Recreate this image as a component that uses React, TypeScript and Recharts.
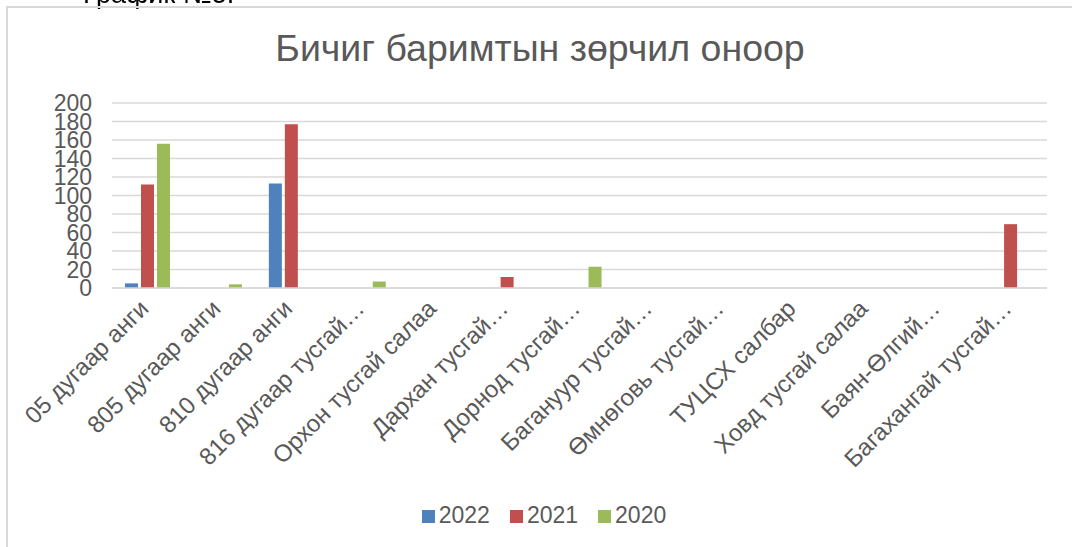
import React from "react";
import { BarChart, Bar, XAxis, YAxis, CartesianGrid, Legend } from "recharts";

const categories = [
  "05 дугаар анги",
  "805 дугаар анги",
  "810 дугаар анги",
  "816 дугаар тусгай…",
  "Орхон тусгай салаа",
  "Дархан тусгай…",
  "Дорнод тусгай…",
  "Багануур тусгай…",
  "Өмнөговь тусгай…",
  "ТУЦСХ салбар",
  "Ховд тусгай салаа",
  "Баян-Өлгий…",
  "Багахангай тусгай…",
];

const values2022 = [5, 0, 113, 0, 0, 0, 0, 0, 0, 0, 0, 0, 0];
const values2021 = [112, 0, 177, 0, 0, 12, 0, 0, 0, 0, 0, 0, 69];
const values2020 = [156, 4, 0, 7, 0, 0, 23, 0, 0, 0, 0, 0, 0];

const seriesOrder = ["2022", "2021", "2020"];
const yTicks = [0, 20, 40, 60, 80, 100, 120, 140, 160, 180, 200];

const FONT = "'Liberation Sans', Arial, sans-serif";
const TEXT = "#595959";

const data = categories.map((name, i) => ({
  name,
  y2022: values2022[i] || null,
  y2021: values2021[i] || null,
  y2020: values2020[i] || null,
}));

const RotatedTick = (props: any) => {
  const { x, y, payload } = props;
  const ax = x + 2;
  const ay = y + 14;
  return (
    <text
      x={ax}
      y={ay}
      transform={`rotate(-45, ${ax}, ${ay})`}
      textAnchor="end"
      fill={TEXT}
      fontSize={24}
      fontFamily={FONT}
    >
      {payload.value}
    </text>
  );
};

export default function App() {
  return (
    <div
      style={{
        position: "relative",
        width: 1072,
        height: 547,
        margin: "-8px 0 0 -8px",
        overflow: "hidden",
        background: "#fff",
        fontFamily: FONT,
      }}
    >
      <div
        style={{
          position: "absolute",
          left: 0,
          width: 1080,
          top: 26,
          textAlign: "center",
          fontSize: 37.5,
          lineHeight: "44px",
          color: TEXT,
        }}
      >
        Бичиг баримтын зөрчил оноор
      </div>
      <div style={{ position: "absolute", left: 0, top: 0 }}>
        <BarChart
          width={1072}
          height={547}
          data={data}
          margin={{ top: 103, right: 25, bottom: 59, left: 0 }}
          barSize={13}
          barGap={3}
        >
          <CartesianGrid vertical={false} stroke="#D9D9D9" strokeWidth={1.5} />
          <XAxis
            dataKey="name"
            interval={0}
            height={200}
            tickLine={false}
            axisLine={{ stroke: "#D9D9D9", strokeWidth: 1.5 }}
            tick={<RotatedTick />}
          />
          <YAxis
            width={112}
            domain={[0, 200]}
            ticks={yTicks}
            interval={0}
            axisLine={false}
            tickLine={false}
            tickSize={6}
            tickMargin={14}
            tick={{ fill: TEXT, fontSize: 23, fontFamily: FONT }}
          />
          <Legend
            verticalAlign="middle"
            align="center"
            iconType="square"
            iconSize={13}
            itemSorter={(item: any) => seriesOrder.indexOf(String(item.value))}
            wrapperStyle={{ top: 502, left: 0, width: 1108, fontSize: 23, fontFamily: FONT }}
            formatter={(value) => <span style={{ color: TEXT, marginRight: 10 }}>{value}</span>}
          />
          <Bar dataKey="y2022" name="2022" fill="#4F81BD" isAnimationActive={false} />
          <Bar dataKey="y2021" name="2021" fill="#C0504D" isAnimationActive={false} />
          <Bar dataKey="y2020" name="2020" fill="#9BBB59" isAnimationActive={false} />
        </BarChart>
      </div>
      <div
        style={{
          position: "fixed",
          left: 83,
          top: -19,
          fontSize: 27,
          lineHeight: "26px",
          color: "#000",
          whiteSpace: "nowrap",
          zIndex: 20,
          fontFamily: FONT,
        }}
      >
        График №5.
      </div>
      <div
        style={{
          position: "fixed",
          left: 6,
          top: 6,
          width: 1100,
          height: 600,
          boxSizing: "border-box",
          border: "2px solid #D9D9D9",
          pointerEvents: "none",
          zIndex: 20,
        }}
      />
    </div>
  );
}
